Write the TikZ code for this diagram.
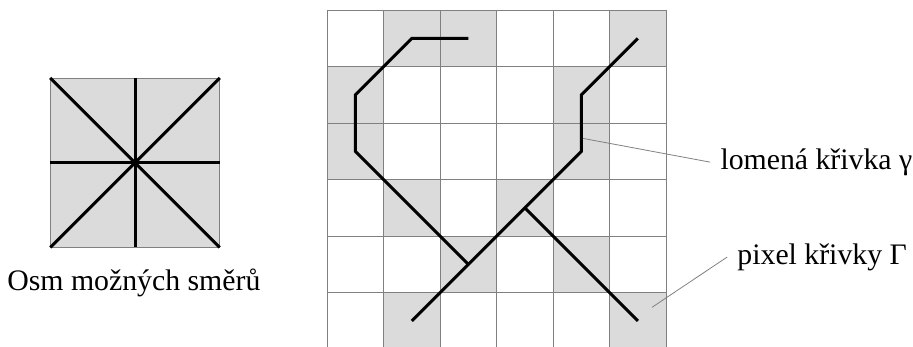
\documentclass[tikz,border=0pt]{standalone}
\usepackage{fontspec}
\setmainfont{Liberation Serif}
\definecolor{pixelgray}{gray}{0.86}
\begin{document}
\begin{tikzpicture}[x=1cm,y=-1cm,
		krivka/.style={line width=1.5pt,line join=miter},
		popis/.style={draw=gray,line width=0.4pt}]
		\useasboundingbox (-5.79,-0.18) rectangle (10.37,5.95);
		\clip (-5.79,-0.18) rectangle (10.37,5.95);
		{\fontsize{15}{18}\selectfont
		% osm moznych smeru
		\draw[fill=pixelgray,draw=gray] (-4.9,1.2) rectangle (-1.9,4.2);
		\coordinate (stred) at (-3.4,2.7);
		\foreach \dx/\dy in {-1/-1,0/-1,1/-1,-1/0,1/0,-1/1,0/1,1/1}
			\draw[krivka] (stred) -- ++(1.5*\dx,1.5*\dy);
		\node (smery) at (-3.42,4.83) {Osm možných směrů};
		% pixely a mrizka
		\foreach \c/\r in {1/0,2/0,5/0,0/1,4/1,0/2,4/2,1/3,3/3,2/4,4/4,1/5,5/5}
			\fill[pixelgray] (\c,\r) rectangle ++(1,1);
		\draw[gray] (0,0) grid (6,6);
		% lomena krivka
		\draw[krivka] (2.5,0.5) -- (1.5,0.5) -- (0.5,1.5) -- (0.5,2.5) -- (2.5,4.5);
		\draw[krivka] (5.5,0.5) -- (4.5,1.5) -- (4.5,2.5) -- (1.5,5.5);
		\draw[krivka] (3.5,3.5) -- (5.5,5.5);
		% popisky
		\coordinate (lomenabod) at (4.53,2.27);
		\node[anchor=west] (lomena) at (6.78,2.69) {lomená křivka γ};
		\draw[popis] (lomenabod) -- (lomena.west);
		\coordinate (pixelbod) at (5.75,5.26);
		\node[anchor=west] (pixel) at (7.08,4.37) {pixel křivky Γ};
		\draw[popis] (pixelbod) -- (pixel.west);}
\end{tikzpicture}
\end{document}
